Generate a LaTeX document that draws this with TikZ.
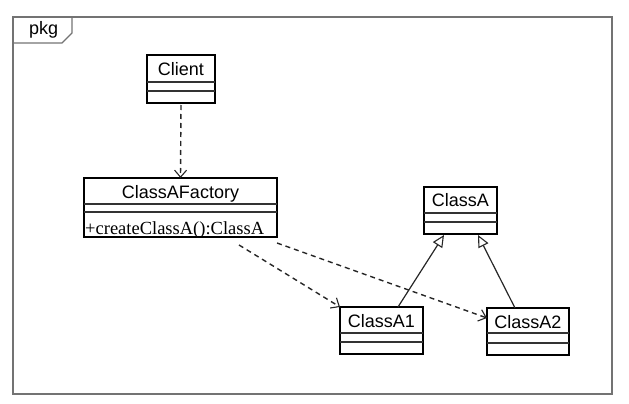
\documentclass[tikz,border=0pt]{standalone}
\usepackage{fontspec}
\setmainfont{Liberation Sans}
\newfontfamily\serifops{Liberation Serif}
\usetikzlibrary{arrows.meta,calc}
\begin{document}
\begin{tikzpicture}[x=1pt,y=-1pt,
  cls/.style={draw=black,line width=2.2pt,fill=white,inner sep=0pt,outer sep=0pt,anchor=north west},
  sepline/.style={draw=black!80,line width=1.1pt},
  nm/.style={inner sep=0pt,anchor=base,font=\fontsize{18}{20}\selectfont},
  ops/.style={inner sep=0pt,anchor=base west,font=\serifops\fontsize{18.5}{20}\selectfont},
  dep/.style={draw=black!85,line width=1.4pt,dash pattern=on 5pt off 4pt,
     -{Straight Barb[length=7pt,width=12pt,line width=1.1pt]}},
  gen/.style={draw=black!85,line width=1.2pt,
     -{Triangle[open,length=12pt,width=11pt,line width=1.1pt,fill=white]}},
  frame/.style={draw=black!55,line width=1.1pt}
]
\useasboundingbox (0,0) rectangle (629,404);
% frame
\draw[frame] (13,17) rectangle (612,394);
\draw[frame] (13,43) -- (62,43) -- (72,33) -- (72,17);
\node[inner sep=0pt,anchor=base west,font=\fontsize{18}{20}\selectfont] (pkg) at (29,35) {pkg};

% Client
\node[cls,minimum width=68pt,minimum height=48pt] (client) at (147,55) {};
\draw[sepline] (147,82) -- (215,82);
\draw[sepline] (147,91) -- (215,91);
\node[nm] (clientN) at (181,75) {Client};

% ClassAFactory
\node[cls,minimum width=193pt,minimum height=59pt] (fac) at (84,178) {};
\draw[sepline] (84,204) -- (277,204);
\draw[sepline] (84,212) -- (277,212);
\node[nm] (facN) at (180.5,198) {ClassAFactory};
\node[ops] (facO) at (85,234) {+createClassA():ClassA};

% ClassA
\node[cls,minimum width=73pt,minimum height=47pt] (ca) at (424,187) {};
\draw[sepline] (424,213) -- (497,213);
\draw[sepline] (424,222) -- (497,222);
\node[nm] (caN) at (460.5,206) {ClassA};

% ClassA1
\node[cls,minimum width=83pt,minimum height=47pt] (ca1) at (340,307) {};
\draw[sepline] (340,333) -- (423,333);
\draw[sepline] (340,342) -- (423,342);
\node[nm] (ca1N) at (381.5,327) {ClassA1};

% ClassA2
\node[cls,minimum width=82pt,minimum height=47pt] (ca2) at (487,308) {};
\draw[sepline] (487,333) -- (569,333);
\draw[sepline] (487,343) -- (569,343);
\node[nm] (ca2N) at (528,328) {ClassA2};

% dependencies
\draw[dep] ($(client.south)+(0,2)$) -- (fac.north);
\draw[dep] ($(fac.south west)+(155,8)$) -- (ca1.north west);
\draw[dep] ($(fac.south east)+(0,6)$) -- ($(ca2.north west)+(0,10)$);

% generalizations
\draw[gen] ($(ca1.north)+(16.5,0)$) -- ($(ca.south)+(-16.5,1)$);
\draw[gen] ($(ca2.north)+(-13,0)$) -- ($(ca.south)+(17.5,1)$);
\end{tikzpicture}
\end{document}
